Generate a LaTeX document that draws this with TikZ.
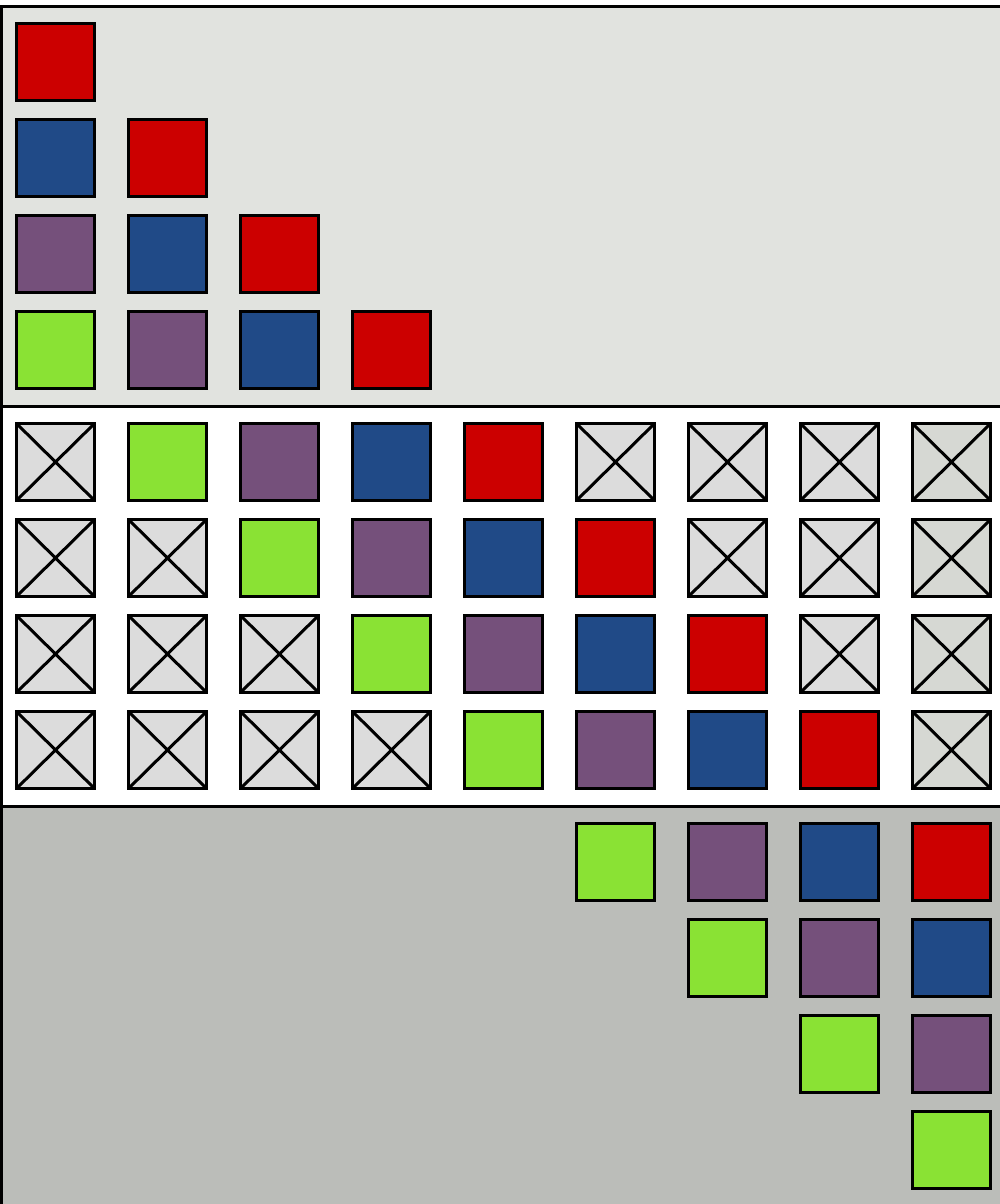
\documentclass[tikz,border=0pt]{standalone}
\begin{document}
\begin{tikzpicture}[x=1pt,y=-1pt,line width=3pt,
  sq/.style={draw=black,minimum width=78pt,minimum height=77pt,inner sep=0pt,outer sep=0pt},
  xbox/.style={sq,fill=xgray,path picture={\draw[line width=3pt] (path picture bounding box.north west)--(path picture bounding box.south east) (path picture bounding box.north east)--(path picture bounding box.south west);}},
  xboxb/.style={xbox,fill=xgrayb}]
\definecolor{topbg}{HTML}{E1E3DF}
\definecolor{botbg}{HTML}{BBBDB9}
\definecolor{xgray}{HTML}{DCDCDC}
\definecolor{xgrayb}{HTML}{D6D8D3}
\definecolor{cred}{HTML}{CC0000}
\definecolor{cblue}{HTML}{204A87}
\definecolor{cpurple}{HTML}{75507B}
\definecolor{cgreen}{HTML}{8AE234}
\useasboundingbox (0,0) rectangle (1000,1204);
\begin{scope}
\clip (0,0) rectangle (1000,1204);
\draw[fill=topbg] (1.5,6.5) rectangle (1010,406);
\draw[fill=white] (1.5,406) rectangle (1010,806);
\draw[fill=botbg] (1.5,806) rectangle (1010,1215);
\end{scope}
% top panel
\foreach \r in {0,...,3}{
  \foreach \c in {0,...,\r}{
    \pgfmathtruncatemacro{\k}{\r-\c}
    \ifcase\k \def\col{cred}\or \def\col{cblue}\or \def\col{cpurple}\else \def\col{cgreen}\fi
    \node[sq,fill=\col] (t-\r-\c) at ({55.5+112*\c},{62+96*\r}) {};
  }
}
% middle panel
\foreach \r in {0,...,3}{
  \foreach \c in {0,...,8}{
    \pgfmathtruncatemacro{\k}{\c-\r-1}
    \ifnum\k<0
      \node[xbox] (m-\r-\c) at ({55.5+112*\c},{462+96*\r}) {};
    \else\ifnum\k>3
      \ifnum\c=8
        \node[xboxb] (m-\r-\c) at ({55.5+112*\c},{462+96*\r}) {};
      \else
        \node[xbox] (m-\r-\c) at ({55.5+112*\c},{462+96*\r}) {};
      \fi
    \else
      \ifcase\k \def\col{cgreen}\or \def\col{cpurple}\or \def\col{cblue}\else \def\col{cred}\fi
      \node[sq,fill=\col] (m-\r-\c) at ({55.5+112*\c},{462+96*\r}) {};
    \fi\fi
  }
}
% bottom panel
\foreach \r in {0,...,3}{
  \foreach \c in {5,...,8}{
    \pgfmathtruncatemacro{\k}{\c-5-\r}
    \ifnum\k>-1
      \ifcase\k \def\col{cgreen}\or \def\col{cpurple}\or \def\col{cblue}\else \def\col{cred}\fi
      \node[sq,fill=\col] (b-\r-\c) at ({55.5+112*\c},{862+96*\r}) {};
    \fi
  }
}
\end{tikzpicture}
\end{document}
